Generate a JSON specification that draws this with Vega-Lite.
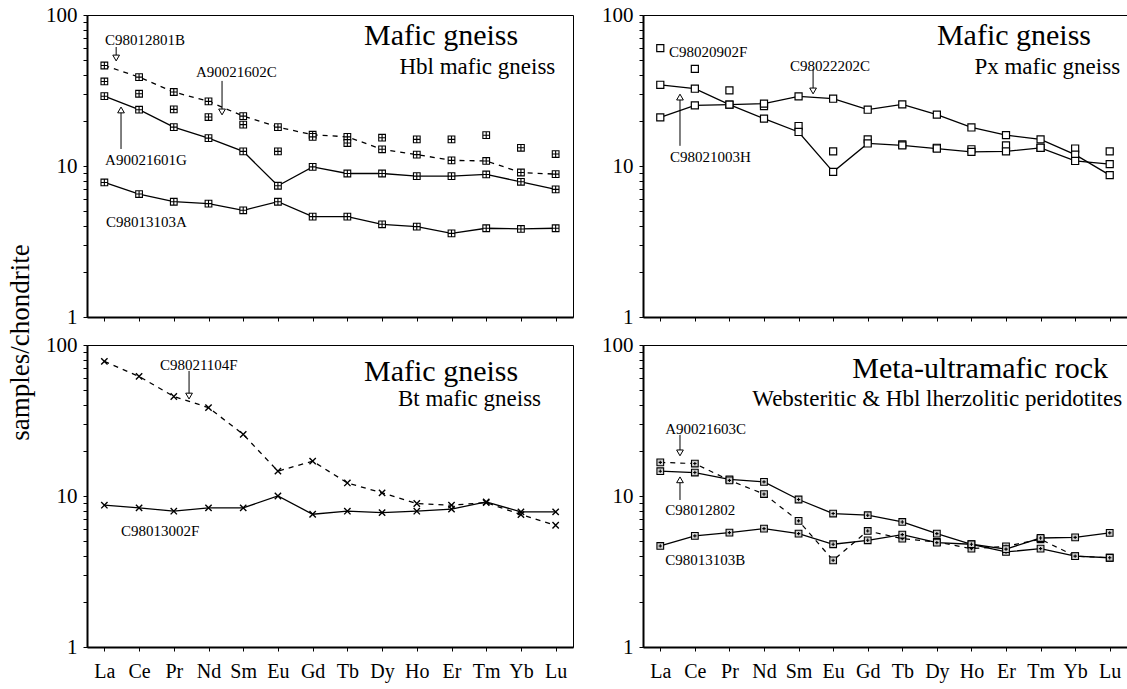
{
"$schema": "https://vega.github.io/schema/vega-lite/v6.json",
"padding": {"left": 6, "top": 3, "right": 2, "bottom": 2},
"background": "white",
"title": {"text": "samples/chondrite", "orient": "left", "anchor": "middle", "font": "Liberation Serif", "fontSize": 27, "fontWeight": "normal", "color": "black", "offset": 4, "dy": -6},
"columns": 2,
"spacing": {"row": 28, "column": 70},
"bounds": "flush",
"datasets": {
"ree": [
{"p":"tl","s":"C98012801B","n":1,"v":46.3},{"p":"tl","s":"C98012801B","n":2,"v":38.8},{"p":"tl","s":"C98012801B","n":3,"v":30.9},{"p":"tl","s":"C98012801B","n":4,"v":26.8},{"p":"tl","s":"C98012801B","n":5,"v":21.4},{"p":"tl","s":"C98012801B","n":6,"v":18.1},{"p":"tl","s":"C98012801B","n":7,"v":16.1},{"p":"tl","s":"C98012801B","n":8,"v":15.6},{"p":"tl","s":"C98012801B","n":9,"v":12.9},{"p":"tl","s":"C98012801B","n":10,"v":11.9},{"p":"tl","s":"C98012801B","n":11,"v":10.9},{"p":"tl","s":"C98012801B","n":12,"v":10.8},{"p":"tl","s":"C98012801B","n":13,"v":9.06},{"p":"tl","s":"C98012801B","n":14,"v":8.83},
{"p":"tl","s":"A90021602C","n":1,"v":36.3},{"p":"tl","s":"A90021602C","n":2,"v":30.1},{"p":"tl","s":"A90021602C","n":3,"v":23.7},{"p":"tl","s":"A90021602C","n":4,"v":21.1},{"p":"tl","s":"A90021602C","n":5,"v":18.8},{"p":"tl","s":"A90021602C","n":6,"v":12.5},{"p":"tl","s":"A90021602C","n":7,"v":15.6},{"p":"tl","s":"A90021602C","n":8,"v":14.2},{"p":"tl","s":"A90021602C","n":9,"v":15.4},{"p":"tl","s":"A90021602C","n":10,"v":15.0},{"p":"tl","s":"A90021602C","n":11,"v":15.0},{"p":"tl","s":"A90021602C","n":12,"v":16.0},{"p":"tl","s":"A90021602C","n":13,"v":13.2},{"p":"tl","s":"A90021602C","n":14,"v":12.0},
{"p":"tl","s":"A90021601G","n":1,"v":29.0},{"p":"tl","s":"A90021601G","n":2,"v":23.6},{"p":"tl","s":"A90021601G","n":3,"v":18.1},{"p":"tl","s":"A90021601G","n":4,"v":15.3},{"p":"tl","s":"A90021601G","n":5,"v":12.5},{"p":"tl","s":"A90021601G","n":6,"v":7.4},{"p":"tl","s":"A90021601G","n":7,"v":9.87},{"p":"tl","s":"A90021601G","n":8,"v":8.92},{"p":"tl","s":"A90021601G","n":9,"v":8.92},{"p":"tl","s":"A90021601G","n":10,"v":8.57},{"p":"tl","s":"A90021601G","n":11,"v":8.57},{"p":"tl","s":"A90021601G","n":12,"v":8.79},{"p":"tl","s":"A90021601G","n":13,"v":7.86},{"p":"tl","s":"A90021601G","n":14,"v":7.0},
{"p":"tl","s":"C98013103A","n":1,"v":7.78},{"p":"tl","s":"C98013103A","n":2,"v":6.52},{"p":"tl","s":"C98013103A","n":3,"v":5.8},{"p":"tl","s":"C98013103A","n":4,"v":5.63},{"p":"tl","s":"C98013103A","n":5,"v":5.09},{"p":"tl","s":"C98013103A","n":6,"v":5.8},{"p":"tl","s":"C98013103A","n":7,"v":4.62},{"p":"tl","s":"C98013103A","n":8,"v":4.62},{"p":"tl","s":"C98013103A","n":9,"v":4.11},{"p":"tl","s":"C98013103A","n":10,"v":3.97},{"p":"tl","s":"C98013103A","n":11,"v":3.58},{"p":"tl","s":"C98013103A","n":12,"v":3.87},{"p":"tl","s":"C98013103A","n":13,"v":3.83},{"p":"tl","s":"C98013103A","n":14,"v":3.87},
{"p":"tr","s":"C98020902F","n":1,"v":60.3},{"p":"tr","s":"C98020902F","n":2,"v":44.0},{"p":"tr","s":"C98020902F","n":3,"v":31.7},{"p":"tr","s":"C98020902F","n":4,"v":24.9},{"p":"tr","s":"C98020902F","n":5,"v":18.4},{"p":"tr","s":"C98020902F","n":6,"v":12.5},{"p":"tr","s":"C98020902F","n":7,"v":15.0},{"p":"tr","s":"C98020902F","n":8,"v":13.9},{"p":"tr","s":"C98020902F","n":9,"v":13.2},{"p":"tr","s":"C98020902F","n":10,"v":12.9},{"p":"tr","s":"C98020902F","n":11,"v":13.7},{"p":"tr","s":"C98020902F","n":12,"v":13.2},{"p":"tr","s":"C98020902F","n":13,"v":13.05},{"p":"tr","s":"C98020902F","n":14,"v":12.5},
{"p":"tr","s":"C98022202C","n":1,"v":21.0},{"p":"tr","s":"C98022202C","n":2,"v":25.2},{"p":"tr","s":"C98022202C","n":3,"v":25.5},{"p":"tr","s":"C98022202C","n":4,"v":25.9},{"p":"tr","s":"C98022202C","n":5,"v":28.9},{"p":"tr","s":"C98022202C","n":6,"v":27.9},{"p":"tr","s":"C98022202C","n":7,"v":23.6},{"p":"tr","s":"C98022202C","n":8,"v":25.6},{"p":"tr","s":"C98022202C","n":9,"v":21.9},{"p":"tr","s":"C98022202C","n":10,"v":18.0},{"p":"tr","s":"C98022202C","n":11,"v":16.0},{"p":"tr","s":"C98022202C","n":12,"v":15.0},{"p":"tr","s":"C98022202C","n":13,"v":11.9},{"p":"tr","s":"C98022202C","n":14,"v":8.7},
{"p":"tr","s":"C98021003H","n":1,"v":34.5},{"p":"tr","s":"C98021003H","n":2,"v":32.5},{"p":"tr","s":"C98021003H","n":3,"v":25.5},{"p":"tr","s":"C98021003H","n":4,"v":20.6},{"p":"tr","s":"C98021003H","n":5,"v":16.8},{"p":"tr","s":"C98021003H","n":6,"v":9.15},{"p":"tr","s":"C98021003H","n":7,"v":14.1},{"p":"tr","s":"C98021003H","n":8,"v":13.7},{"p":"tr","s":"C98021003H","n":9,"v":13.05},{"p":"tr","s":"C98021003H","n":10,"v":12.4},{"p":"tr","s":"C98021003H","n":11,"v":12.5},{"p":"tr","s":"C98021003H","n":12,"v":13.2},{"p":"tr","s":"C98021003H","n":13,"v":10.8},{"p":"tr","s":"C98021003H","n":14,"v":10.3},
{"p":"bl","s":"C98021104F","n":1,"v":77.9},{"p":"bl","s":"C98021104F","n":2,"v":61.9},{"p":"bl","s":"C98021104F","n":3,"v":45.6},{"p":"bl","s":"C98021104F","n":4,"v":38.5},{"p":"bl","s":"C98021104F","n":5,"v":25.6},{"p":"bl","s":"C98021104F","n":6,"v":14.6},{"p":"bl","s":"C98021104F","n":7,"v":17.0},{"p":"bl","s":"C98021104F","n":8,"v":12.2},{"p":"bl","s":"C98021104F","n":9,"v":10.5},{"p":"bl","s":"C98021104F","n":10,"v":8.92},{"p":"bl","s":"C98021104F","n":11,"v":8.69},{"p":"bl","s":"C98021104F","n":12,"v":9.05},{"p":"bl","s":"C98021104F","n":13,"v":7.53},{"p":"bl","s":"C98021104F","n":14,"v":6.4},
{"p":"bl","s":"C98013002F","n":1,"v":8.69},{"p":"bl","s":"C98013002F","n":2,"v":8.35},{"p":"bl","s":"C98013002F","n":3,"v":7.93},{"p":"bl","s":"C98013002F","n":4,"v":8.35},{"p":"bl","s":"C98013002F","n":5,"v":8.35},{"p":"bl","s":"C98013002F","n":6,"v":10.0},{"p":"bl","s":"C98013002F","n":7,"v":7.57},{"p":"bl","s":"C98013002F","n":8,"v":7.93},{"p":"bl","s":"C98013002F","n":9,"v":7.77},{"p":"bl","s":"C98013002F","n":10,"v":7.93},{"p":"bl","s":"C98013002F","n":11,"v":8.18},{"p":"bl","s":"C98013002F","n":12,"v":9.15},{"p":"bl","s":"C98013002F","n":13,"v":7.85},{"p":"bl","s":"C98013002F","n":14,"v":7.85},
{"p":"br","s":"C98012802","n":1,"v":14.6},{"p":"br","s":"C98012802","n":2,"v":14.3},{"p":"br","s":"C98012802","n":3,"v":12.9},{"p":"br","s":"C98012802","n":4,"v":12.4},{"p":"br","s":"C98012802","n":5,"v":9.48},{"p":"br","s":"C98012802","n":6,"v":7.65},{"p":"br","s":"C98012802","n":7,"v":7.46},{"p":"br","s":"C98012802","n":8,"v":6.73},{"p":"br","s":"C98012802","n":9,"v":5.63},{"p":"br","s":"C98012802","n":10,"v":4.79},{"p":"br","s":"C98012802","n":11,"v":4.26},{"p":"br","s":"C98012802","n":12,"v":4.48},{"p":"br","s":"C98012802","n":13,"v":4.0},{"p":"br","s":"C98012802","n":14,"v":3.9},
{"p":"br","s":"A90021603C","n":1,"v":16.7},{"p":"br","s":"A90021603C","n":2,"v":16.4},{"p":"br","s":"A90021603C","n":3,"v":12.7},{"p":"br","s":"A90021603C","n":4,"v":10.3},{"p":"br","s":"A90021603C","n":5,"v":6.84},{"p":"br","s":"A90021603C","n":6,"v":3.75},{"p":"br","s":"A90021603C","n":7,"v":5.87},{"p":"br","s":"A90021603C","n":8,"v":5.22},{"p":"br","s":"A90021603C","n":9,"v":4.96},{"p":"br","s":"A90021603C","n":10,"v":4.48},{"p":"br","s":"A90021603C","n":11,"v":4.64},{"p":"br","s":"A90021603C","n":12,"v":5.17},{"p":"br","s":"A90021603C","n":13,"v":4.0},{"p":"br","s":"A90021603C","n":14,"v":3.9},
{"p":"br","s":"C98013103B","n":1,"v":4.67},{"p":"br","s":"C98013103B","n":2,"v":5.44},{"p":"br","s":"C98013103B","n":3,"v":5.72},{"p":"br","s":"C98013103B","n":4,"v":6.08},{"p":"br","s":"C98013103B","n":5,"v":5.63},{"p":"br","s":"C98013103B","n":6,"v":4.79},{"p":"br","s":"C98013103B","n":7,"v":5.09},{"p":"br","s":"C98013103B","n":8,"v":5.55},{"p":"br","s":"C98013103B","n":9,"v":4.91},{"p":"br","s":"C98013103B","n":10,"v":4.79},{"p":"br","s":"C98013103B","n":11,"v":4.45},{"p":"br","s":"C98013103B","n":12,"v":5.27},{"p":"br","s":"C98013103B","n":13,"v":5.32},{"p":"br","s":"C98013103B","n":14,"v":5.7}
],
"notes": [
{"p":"tl","k":"title","t":"Mafic gneiss","n":12.92,"v":63.3},
{"p":"tl","k":"sub","t":"Hbl mafic gneiss","n":13.99,"v":40.7},
{"p":"tl","k":"id","t":"C98012801B","n":1.02,"v":68.3},
{"p":"tl","k":"id","t":"A90021602C","n":3.64,"v":41.9},
{"p":"tl","k":"id","t":"A90021601G","n":1.02,"v":10.96},
{"p":"tl","k":"id","t":"C98013103A","n":1.05,"v":4.26},
{"p":"tr","k":"title","t":"Mafic gneiss","n":13.46,"v":63.3},
{"p":"tr","k":"sub","t":"Px mafic gneiss","n":14.30,"v":40.7},
{"p":"tr","k":"id","t":"C98020902F","n":1.25,"v":56.9},
{"p":"tr","k":"id","t":"C98022202C","n":4.75,"v":45.9},
{"p":"tr","k":"id","t":"C98021003H","n":1.28,"v":11.5},
{"p":"bl","k":"title","t":"Mafic gneiss","n":12.92,"v":57.8},
{"p":"bl","k":"sub","t":"Bt mafic gneiss","n":13.58,"v":39.4},
{"p":"bl","k":"id","t":"C98021104F","n":2.60,"v":73.7},
{"p":"bl","k":"id","t":"C98013002F","n":1.48,"v":5.87},
{"p":"br","k":"title","t":"Meta-ultramafic rock","n":13.95,"v":60.5},
{"p":"br","k":"sub","t":"Websteritic & Hbl lherzolitic peridotites","n":14.36,"v":39.4},
{"p":"br","k":"id","t":"A90021603C","n":1.14,"v":27.8},
{"p":"br","k":"id","t":"C98012802","n":1.14,"v":8.08},
{"p":"br","k":"id","t":"C98013103B","n":1.14,"v":3.77}
],
"arrows": [
{"p":"tl","s":"C98012801B","n":1.34,"v":61.4,"h":51.9,"dir":"down"},
{"p":"tl","s":"A90021602C","n":4.39,"v":36.6,"h":22.8,"dir":"down"},
{"p":"tl","s":"A90021601G","n":1.48,"v":12.96,"h":23.5,"dir":"up"},
{"p":"tr","s":"C98022202C","n":5.42,"v":43.9,"h":31.4,"dir":"down"},
{"p":"tr","s":"C98021003H","n":1.57,"v":13.6,"h":28.6,"dir":"up"},
{"p":"bl","s":"C98021104F","n":3.44,"v":67.3,"h":45.9,"dir":"down"},
{"p":"br","s":"A90021603C","n":1.57,"v":25.4,"h":19.3,"dir":"down"},
{"p":"br","s":"C98012802","n":1.57,"v":9.41,"h":12.8,"dir":"up"}
]
},
"concat": [
{
"width": 486, "height": 302,
"resolve": {"scale": {"x": "independent"}},
"layer": [
{"data": {"name": "ree"}, "transform": [{"filter": {"field": "s", "oneOf": ["A90021601G", "C98013103A"]}}],
 "mark": {"type": "line", "color": "black", "strokeWidth": 1.3},
 "encoding": {
  "x": {"field": "n", "type": "ordinal", "title": null, "scale": {"type": "point", "padding": 0.5, "domain": [1,2,3,4,5,6,7,8,9,10,11,12,13,14]}, "axis": {"labels": false, "tickSize": 4}},
  "y": {"field": "v", "type": "quantitative", "title": null, "scale": {"type": "log", "domain": [1, 100], "nice": false}, "axis": {"values": [1,2,3,4,5,6,7,8,9,10,20,30,40,50,60,70,80,90,100], "labelOverlap": false, "labelExpr": "datum.value==1||datum.value==10||datum.value==100 ? datum.value+'' : ''"}},
  "detail": {"field": "s"}}},
{"data": {"name": "ree"}, "transform": [{"filter": {"field": "s", "oneOf": ["C98012801B"]}}],
 "mark": {"type": "line", "color": "black", "strokeWidth": 1.3, "strokeDash": [5, 5]},
 "encoding": {"x": {"field": "n", "type": "ordinal", "title": null, "scale": {"type": "point", "padding": 0.5, "domain": [1,2,3,4,5,6,7,8,9,10,11,12,13,14]}, "axis": null}, "y": {"field": "v", "type": "quantitative", "title": null}, "detail": {"field": "s"}}},
{"data": {"name": "ree"}, "transform": [{"filter": "datum.p=='tl'"}],
 "mark": {"type": "point", "shape": "M-1,-1H1V1H-1ZM-1,0H1M0,-1V1", "filled": true, "fill": "white", "stroke": "black", "strokeWidth": 1.1, "size": 45, "opacity": 1},
 "encoding": {"x": {"field": "n", "type": "ordinal", "title": null, "scale": {"type": "point", "padding": 0.5, "domain": [1,2,3,4,5,6,7,8,9,10,11,12,13,14]}, "axis": null}, "y": {"field": "v", "type": "quantitative", "title": null}}},
{"data": {"name": "arrows"}, "transform": [{"filter": "datum.p=='tl'"}],
 "mark": {"type": "rule", "color": "black", "strokeWidth": 1},
 "encoding": {"x": {"field": "n", "type": "quantitative", "title": null, "scale": {"domain": [0.5, 14.5], "nice": false, "zero": false}, "axis": null}, "y": {"field": "v", "type": "quantitative", "title": null}, "y2": {"field": "h"}}},
{"data": {"name": "arrows"}, "transform": [{"filter": "datum.p=='tl'"}],
 "mark": {"type": "point", "filled": true, "fill": "white", "stroke": "black", "strokeWidth": 1, "size": 45, "opacity": 1},
 "encoding": {"x": {"field": "n", "type": "quantitative", "title": null, "scale": {"domain": [0.5, 14.5], "nice": false, "zero": false}, "axis": null}, "y": {"field": "h", "type": "quantitative", "title": null}, "shape": {"field": "dir", "type": "nominal", "scale": {"domain": ["down", "up"], "range": ["triangle-down", "triangle-up"]}, "legend": null}}},
{"data": {"name": "notes"}, "transform": [{"filter": "datum.p=='tl' && datum.k=='title'"}],
 "mark": {"type": "text", "align": "right", "baseline": "alphabetic", "font": "Liberation Serif", "fontSize": 30, "color": "black"},
 "encoding": {"x": {"field": "n", "type": "quantitative", "title": null, "scale": {"domain": [0.5, 14.5], "nice": false, "zero": false}, "axis": null}, "y": {"field": "v", "type": "quantitative", "title": null}, "text": {"field": "t"}}},
{"data": {"name": "notes"}, "transform": [{"filter": "datum.p=='tl' && datum.k=='sub'"}],
 "mark": {"type": "text", "align": "right", "baseline": "alphabetic", "font": "Liberation Serif", "fontSize": 23, "color": "black"},
 "encoding": {"x": {"field": "n", "type": "quantitative", "title": null, "scale": {"domain": [0.5, 14.5], "nice": false, "zero": false}, "axis": null}, "y": {"field": "v", "type": "quantitative", "title": null}, "text": {"field": "t"}}},
{"data": {"name": "notes"}, "transform": [{"filter": "datum.p=='tl' && datum.k=='id'"}],
 "mark": {"type": "text", "align": "left", "baseline": "middle", "font": "Liberation Serif", "fontSize": 15, "color": "black"},
 "encoding": {"x": {"field": "n", "type": "quantitative", "title": null, "scale": {"domain": [0.5, 14.5], "nice": false, "zero": false}, "axis": null}, "y": {"field": "v", "type": "quantitative", "title": null}, "text": {"field": "t"}}}
]
},
{
"width": 484, "height": 302,
"resolve": {"scale": {"x": "independent"}},
"layer": [
{"data": {"name": "ree"}, "transform": [{"filter": {"field": "s", "oneOf": ["C98022202C", "C98021003H"]}}],
 "mark": {"type": "line", "color": "black", "strokeWidth": 1.3},
 "encoding": {
  "x": {"field": "n", "type": "ordinal", "title": null, "scale": {"type": "point", "padding": 0.5, "domain": [1,2,3,4,5,6,7,8,9,10,11,12,13,14]}, "axis": {"labels": false, "tickSize": 4}},
  "y": {"field": "v", "type": "quantitative", "title": null, "scale": {"type": "log", "domain": [1, 100], "nice": false}, "axis": {"values": [1,2,3,4,5,6,7,8,9,10,20,30,40,50,60,70,80,90,100], "labelOverlap": false, "labelExpr": "datum.value==1||datum.value==10||datum.value==100 ? datum.value+'' : ''"}},
  "detail": {"field": "s"}}},
{"data": {"name": "ree"}, "transform": [{"filter": "datum.p=='tr'"}],
 "mark": {"type": "point", "shape": "square", "filled": true, "fill": "white", "stroke": "black", "strokeWidth": 1.2, "size": 50, "opacity": 1},
 "encoding": {"x": {"field": "n", "type": "ordinal", "title": null, "scale": {"type": "point", "padding": 0.5, "domain": [1,2,3,4,5,6,7,8,9,10,11,12,13,14]}, "axis": null}, "y": {"field": "v", "type": "quantitative", "title": null}}},
{"data": {"name": "arrows"}, "transform": [{"filter": "datum.p=='tr'"}],
 "mark": {"type": "rule", "color": "black", "strokeWidth": 1},
 "encoding": {"x": {"field": "n", "type": "quantitative", "title": null, "scale": {"domain": [0.5, 14.5], "nice": false, "zero": false}, "axis": null}, "y": {"field": "v", "type": "quantitative", "title": null}, "y2": {"field": "h"}}},
{"data": {"name": "arrows"}, "transform": [{"filter": "datum.p=='tr'"}],
 "mark": {"type": "point", "filled": true, "fill": "white", "stroke": "black", "strokeWidth": 1, "size": 45, "opacity": 1},
 "encoding": {"x": {"field": "n", "type": "quantitative", "title": null, "scale": {"domain": [0.5, 14.5], "nice": false, "zero": false}, "axis": null}, "y": {"field": "h", "type": "quantitative", "title": null}, "shape": {"field": "dir", "type": "nominal", "scale": {"domain": ["down", "up"], "range": ["triangle-down", "triangle-up"]}, "legend": null}}},
{"data": {"name": "notes"}, "transform": [{"filter": "datum.p=='tr' && datum.k=='title'"}],
 "mark": {"type": "text", "align": "right", "baseline": "alphabetic", "font": "Liberation Serif", "fontSize": 30, "color": "black"},
 "encoding": {"x": {"field": "n", "type": "quantitative", "title": null, "scale": {"domain": [0.5, 14.5], "nice": false, "zero": false}, "axis": null}, "y": {"field": "v", "type": "quantitative", "title": null}, "text": {"field": "t"}}},
{"data": {"name": "notes"}, "transform": [{"filter": "datum.p=='tr' && datum.k=='sub'"}],
 "mark": {"type": "text", "align": "right", "baseline": "alphabetic", "font": "Liberation Serif", "fontSize": 23, "color": "black"},
 "encoding": {"x": {"field": "n", "type": "quantitative", "title": null, "scale": {"domain": [0.5, 14.5], "nice": false, "zero": false}, "axis": null}, "y": {"field": "v", "type": "quantitative", "title": null}, "text": {"field": "t"}}},
{"data": {"name": "notes"}, "transform": [{"filter": "datum.p=='tr' && datum.k=='id'"}],
 "mark": {"type": "text", "align": "left", "baseline": "middle", "font": "Liberation Serif", "fontSize": 15, "color": "black"},
 "encoding": {"x": {"field": "n", "type": "quantitative", "title": null, "scale": {"domain": [0.5, 14.5], "nice": false, "zero": false}, "axis": null}, "y": {"field": "v", "type": "quantitative", "title": null}, "text": {"field": "t"}}}
]
},
{
"width": 486, "height": 302,
"resolve": {"scale": {"x": "independent"}},
"layer": [
{"data": {"name": "ree"}, "transform": [{"filter": {"field": "s", "oneOf": ["C98013002F"]}}],
 "mark": {"type": "line", "color": "black", "strokeWidth": 1.3},
 "encoding": {
  "x": {"field": "n", "type": "ordinal", "title": null, "scale": {"type": "point", "padding": 0.5, "domain": [1,2,3,4,5,6,7,8,9,10,11,12,13,14]}, "axis": {"labelOverlap": false, "labelExpr": "slice('LaCePrNdSmEuGdTbDyHoErTmYbLu', 2*datum.value-2, 2*datum.value)", "tickSize": 4, "labelPadding": 10, "labelFontSize": 20, "labelAngle": 0}},
  "y": {"field": "v", "type": "quantitative", "title": null, "scale": {"type": "log", "domain": [1, 100], "nice": false}, "axis": {"values": [1,2,3,4,5,6,7,8,9,10,20,30,40,50,60,70,80,90,100], "labelOverlap": false, "labelExpr": "datum.value==1||datum.value==10||datum.value==100 ? datum.value+'' : ''"}},
  "detail": {"field": "s"}}},
{"data": {"name": "ree"}, "transform": [{"filter": {"field": "s", "oneOf": ["C98021104F"]}}],
 "mark": {"type": "line", "color": "black", "strokeWidth": 1.3, "strokeDash": [5, 5]},
 "encoding": {"x": {"field": "n", "type": "ordinal", "title": null, "scale": {"type": "point", "padding": 0.5, "domain": [1,2,3,4,5,6,7,8,9,10,11,12,13,14]}, "axis": null}, "y": {"field": "v", "type": "quantitative", "title": null}, "detail": {"field": "s"}}},
{"data": {"name": "ree"}, "transform": [{"filter": "datum.p=='bl'"}],
 "mark": {"type": "point", "shape": "M-1,-1L1,1M-1,1L1,-1", "filled": false, "stroke": "black", "strokeWidth": 1.4, "size": 40, "opacity": 1},
 "encoding": {"x": {"field": "n", "type": "ordinal", "title": null, "scale": {"type": "point", "padding": 0.5, "domain": [1,2,3,4,5,6,7,8,9,10,11,12,13,14]}, "axis": null}, "y": {"field": "v", "type": "quantitative", "title": null}}},
{"data": {"name": "arrows"}, "transform": [{"filter": "datum.p=='bl'"}],
 "mark": {"type": "rule", "color": "black", "strokeWidth": 1},
 "encoding": {"x": {"field": "n", "type": "quantitative", "title": null, "scale": {"domain": [0.5, 14.5], "nice": false, "zero": false}, "axis": null}, "y": {"field": "v", "type": "quantitative", "title": null}, "y2": {"field": "h"}}},
{"data": {"name": "arrows"}, "transform": [{"filter": "datum.p=='bl'"}],
 "mark": {"type": "point", "filled": true, "fill": "white", "stroke": "black", "strokeWidth": 1, "size": 45, "opacity": 1},
 "encoding": {"x": {"field": "n", "type": "quantitative", "title": null, "scale": {"domain": [0.5, 14.5], "nice": false, "zero": false}, "axis": null}, "y": {"field": "h", "type": "quantitative", "title": null}, "shape": {"field": "dir", "type": "nominal", "scale": {"domain": ["down", "up"], "range": ["triangle-down", "triangle-up"]}, "legend": null}}},
{"data": {"name": "notes"}, "transform": [{"filter": "datum.p=='bl' && datum.k=='title'"}],
 "mark": {"type": "text", "align": "right", "baseline": "alphabetic", "font": "Liberation Serif", "fontSize": 30, "color": "black"},
 "encoding": {"x": {"field": "n", "type": "quantitative", "title": null, "scale": {"domain": [0.5, 14.5], "nice": false, "zero": false}, "axis": null}, "y": {"field": "v", "type": "quantitative", "title": null}, "text": {"field": "t"}}},
{"data": {"name": "notes"}, "transform": [{"filter": "datum.p=='bl' && datum.k=='sub'"}],
 "mark": {"type": "text", "align": "right", "baseline": "alphabetic", "font": "Liberation Serif", "fontSize": 23, "color": "black"},
 "encoding": {"x": {"field": "n", "type": "quantitative", "title": null, "scale": {"domain": [0.5, 14.5], "nice": false, "zero": false}, "axis": null}, "y": {"field": "v", "type": "quantitative", "title": null}, "text": {"field": "t"}}},
{"data": {"name": "notes"}, "transform": [{"filter": "datum.p=='bl' && datum.k=='id'"}],
 "mark": {"type": "text", "align": "left", "baseline": "middle", "font": "Liberation Serif", "fontSize": 15, "color": "black"},
 "encoding": {"x": {"field": "n", "type": "quantitative", "title": null, "scale": {"domain": [0.5, 14.5], "nice": false, "zero": false}, "axis": null}, "y": {"field": "v", "type": "quantitative", "title": null}, "text": {"field": "t"}}}
]
},
{
"width": 484, "height": 302,
"resolve": {"scale": {"x": "independent"}},
"layer": [
{"data": {"name": "ree"}, "transform": [{"filter": {"field": "s", "oneOf": ["C98012802", "C98013103B"]}}],
 "mark": {"type": "line", "color": "black", "strokeWidth": 1.3},
 "encoding": {
  "x": {"field": "n", "type": "ordinal", "title": null, "scale": {"type": "point", "padding": 0.5, "domain": [1,2,3,4,5,6,7,8,9,10,11,12,13,14]}, "axis": {"labelOverlap": false, "labelExpr": "slice('LaCePrNdSmEuGdTbDyHoErTmYbLu', 2*datum.value-2, 2*datum.value)", "tickSize": 4, "labelPadding": 10, "labelFontSize": 20, "labelAngle": 0}},
  "y": {"field": "v", "type": "quantitative", "title": null, "scale": {"type": "log", "domain": [1, 100], "nice": false}, "axis": {"values": [1,2,3,4,5,6,7,8,9,10,20,30,40,50,60,70,80,90,100], "labelOverlap": false, "labelExpr": "datum.value==1||datum.value==10||datum.value==100 ? datum.value+'' : ''"}},
  "detail": {"field": "s"}}},
{"data": {"name": "ree"}, "transform": [{"filter": {"field": "s", "oneOf": ["A90021603C"]}}],
 "mark": {"type": "line", "color": "black", "strokeWidth": 1.2, "strokeDash": [5, 5]},
 "encoding": {"x": {"field": "n", "type": "ordinal", "title": null, "scale": {"type": "point", "padding": 0.5, "domain": [1,2,3,4,5,6,7,8,9,10,11,12,13,14]}, "axis": null}, "y": {"field": "v", "type": "quantitative", "title": null}, "detail": {"field": "s"}}},
{"data": {"name": "ree"}, "transform": [{"filter": "datum.p=='br'"}],
 "mark": {"type": "point", "shape": "M-1,-1H1V1H-1ZM-0.5,0H0.5M0,-0.5V0.5", "filled": true, "fill": "#d0d0d0", "stroke": "black", "strokeWidth": 1.1, "size": 45, "opacity": 1},
 "encoding": {"x": {"field": "n", "type": "ordinal", "title": null, "scale": {"type": "point", "padding": 0.5, "domain": [1,2,3,4,5,6,7,8,9,10,11,12,13,14]}, "axis": null}, "y": {"field": "v", "type": "quantitative", "title": null}}},
{"data": {"name": "arrows"}, "transform": [{"filter": "datum.p=='br'"}],
 "mark": {"type": "rule", "color": "black", "strokeWidth": 1},
 "encoding": {"x": {"field": "n", "type": "quantitative", "title": null, "scale": {"domain": [0.5, 14.5], "nice": false, "zero": false}, "axis": null}, "y": {"field": "v", "type": "quantitative", "title": null}, "y2": {"field": "h"}}},
{"data": {"name": "arrows"}, "transform": [{"filter": "datum.p=='br'"}],
 "mark": {"type": "point", "filled": true, "fill": "white", "stroke": "black", "strokeWidth": 1, "size": 45, "opacity": 1},
 "encoding": {"x": {"field": "n", "type": "quantitative", "title": null, "scale": {"domain": [0.5, 14.5], "nice": false, "zero": false}, "axis": null}, "y": {"field": "h", "type": "quantitative", "title": null}, "shape": {"field": "dir", "type": "nominal", "scale": {"domain": ["down", "up"], "range": ["triangle-down", "triangle-up"]}, "legend": null}}},
{"data": {"name": "notes"}, "transform": [{"filter": "datum.p=='br' && datum.k=='title'"}],
 "mark": {"type": "text", "align": "right", "baseline": "alphabetic", "font": "Liberation Serif", "fontSize": 30, "color": "black"},
 "encoding": {"x": {"field": "n", "type": "quantitative", "title": null, "scale": {"domain": [0.5, 14.5], "nice": false, "zero": false}, "axis": null}, "y": {"field": "v", "type": "quantitative", "title": null}, "text": {"field": "t"}}},
{"data": {"name": "notes"}, "transform": [{"filter": "datum.p=='br' && datum.k=='sub'"}],
 "mark": {"type": "text", "align": "right", "baseline": "alphabetic", "font": "Liberation Serif", "fontSize": 23, "color": "black"},
 "encoding": {"x": {"field": "n", "type": "quantitative", "title": null, "scale": {"domain": [0.5, 14.5], "nice": false, "zero": false}, "axis": null}, "y": {"field": "v", "type": "quantitative", "title": null}, "text": {"field": "t"}}},
{"data": {"name": "notes"}, "transform": [{"filter": "datum.p=='br' && datum.k=='id'"}],
 "mark": {"type": "text", "align": "left", "baseline": "middle", "font": "Liberation Serif", "fontSize": 15, "color": "black"},
 "encoding": {"x": {"field": "n", "type": "quantitative", "title": null, "scale": {"domain": [0.5, 14.5], "nice": false, "zero": false}, "axis": null}, "y": {"field": "v", "type": "quantitative", "title": null}, "text": {"field": "t"}}}
]
}
],
"config": {
 "font": "Liberation Serif",
 "title": {"font": "Liberation Serif"},
 "text": {"font": "Liberation Serif"},
 "view": {"stroke": "black", "strokeWidth": 1},
 "axis": {"grid": false, "domainColor": "black", "domainWidth": 2, "tickColor": "black", "tickWidth": 1, "tickSize": 4, "labelFont": "Liberation Serif", "labelColor": "black", "labelFontSize": 21, "labelPadding": 6, "labelFlush": false, "labelAngle": 0, "labelBound": false},
 "axisY": {"labelFontSize": 21}
}
}
